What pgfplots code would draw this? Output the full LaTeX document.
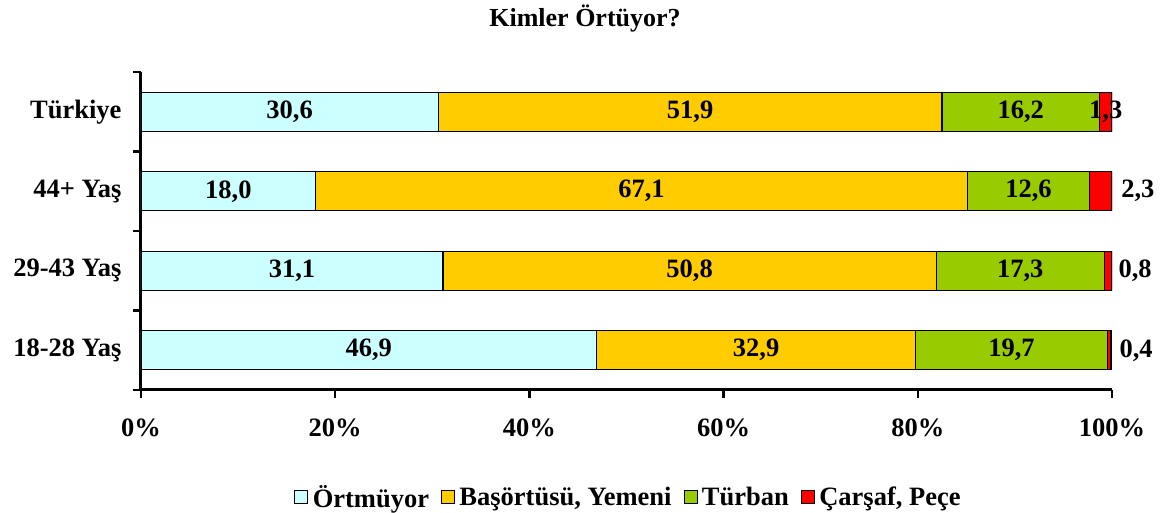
\documentclass[border=0pt]{standalone}
\usepackage{fontspec}
\setmainfont{Liberation Serif}
\usepackage{pgfplots}
\usepackage{pgfplotstable}
\pgfplotsset{compat=1.18}
\definecolor{cOrt}{HTML}{CCFFFF}
\definecolor{cBas}{HTML}{FFCC00}
\definecolor{cTur}{HTML}{99CC00}
\definecolor{cCar}{HTML}{FF0000}
\pgfplotstableread{
y ort bas tur car dx
0 46.9 32.9 19.7 0.4 27
1 31.1 50.8 17.3 0.8 27
2 18.0 67.1 12.6 2.3 37
3 30.6 51.9 16.2 1.3 0
}\data
\newcommand{\bigb}{\bfseries\fontsize{26.5}{30}\selectfont}
\begin{document}
\begin{tikzpicture}[x=1pt,y=1pt]
\path[use as bounding box] (-141,-123) rectangle (1026,390);
\node[font=\bfseries\fontsize{26}{30}\selectfont] at (444,372) {Kimler Örtüyor?};
\begin{axis}[
  at={(0,0)}, anchor=south west,
  scale only axis, width=971pt, height=318pt,
  xbar stacked, bar width=39pt,
  xmin=0, xmax=100, ymin=-0.5, ymax=3.5,
  axis x line*=bottom, axis y line*=left,
  axis line style={line width=3pt, -},
  tick align=outside, major tick length=8pt,
  tick style={line width=2.5pt, black},
  /pgf/number format/assume math mode=true,
  xtick={0,20,...,100},
  xticklabel={\pgfmathprintnumber{\tick}\%},
  xticklabel style={font=\bigb, yshift=-17pt},
  ytick={-0.5,0.5,1.5,2.5,3.5}, yticklabels={},
  extra y ticks={0,1,2,3},
  extra y tick labels={18-28 Yaş, 29-43 Yaş, 44+ Yaş, Türkiye},
  extra y tick style={major tick length=0pt, yticklabel style={font=\bigb, xshift=-16pt}},
  nodes near coords={\pgfmathprintnumber[fixed, fixed zerofill, precision=1, use comma, assume math mode=true]{\pgfplotspointmeta}},
  every node near coord/.style={font=\bigb, text=black, anchor=center},
  point meta=explicit,
  legend style={at={(0.502,-0.336)}, anchor=center, draw=none, legend columns=-1, font=\bigb,
    /tikz/every even column/.append style={column sep=10pt}},
  legend image code/.code={\draw[#1, line width=0.9pt] (0pt,-6.5pt) rectangle (13pt,6.5pt); \path[draw=none, fill=none] (0pt,0pt) -- (16pt,0pt);},
]
\addplot[fill=cOrt, draw=black, line width=1.2pt]
  table[x=ort, y=y, meta=ort] {\data};
\addplot[fill=cBas, draw=black, line width=1.2pt]
  table[x=bas, y=y, meta=bas] {\data};
\addplot[fill=cTur, draw=black, line width=1.2pt]
  table[x=tur, y=y, meta=tur] {\data};
\addplot[fill=cCar, draw=black, line width=1.2pt,
  visualization depends on={\thisrow{dx} \as \segdx},
  every node near coord/.style={font=\bigb, text=black, anchor=center, xshift={1pt*\segdx}}]
  table[x=car, y=y, meta=car] {\data};
\legend{Örtmüyor, {Başörtüsü, Yemeni}, Türban, {Çarşaf, Peçe}}
\end{axis}
\end{tikzpicture}
\end{document}
